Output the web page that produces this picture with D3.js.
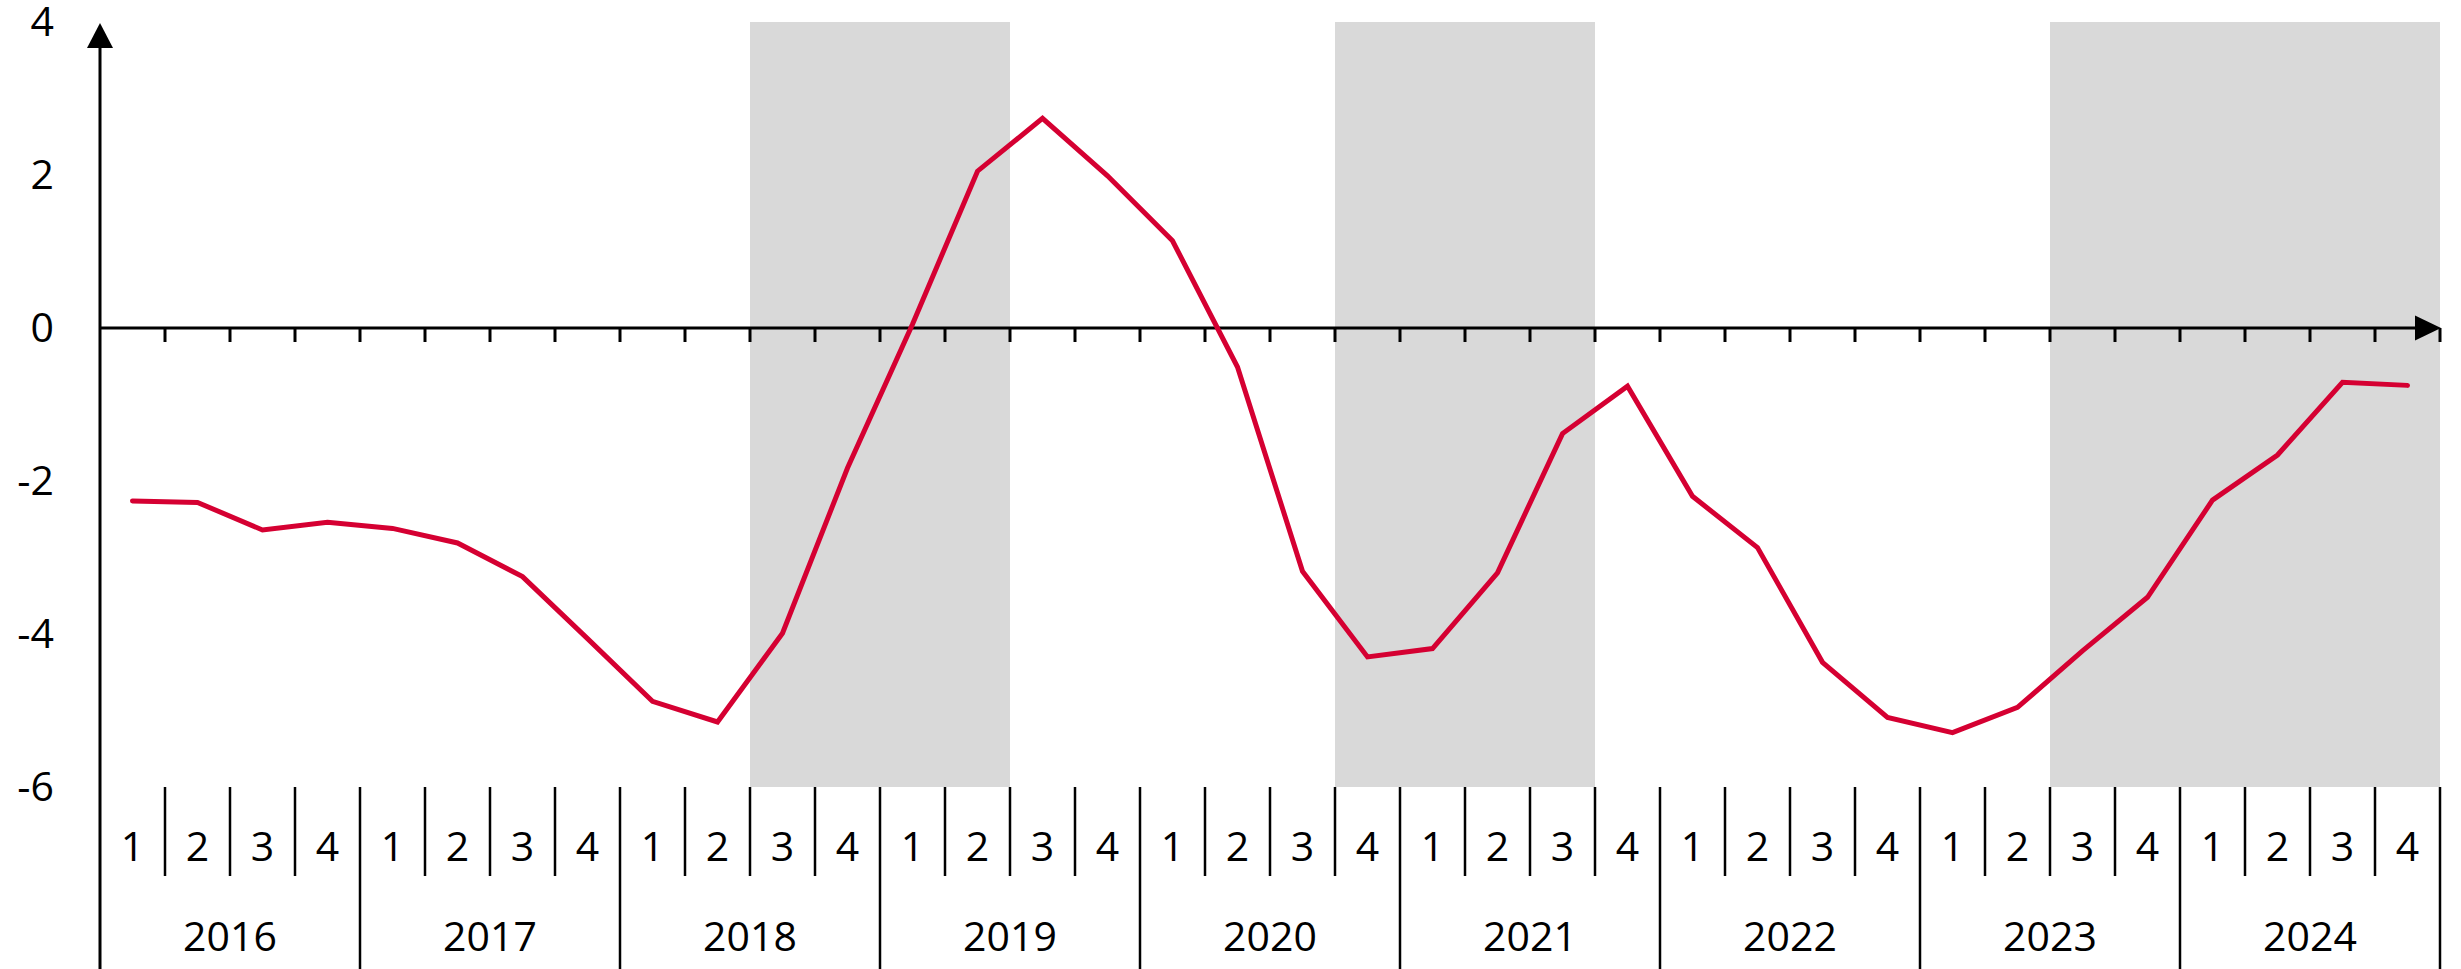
<!DOCTYPE html>
<html>
<head>
<meta charset="utf-8">
<script src="https://cdn.jsdelivr.net/npm/d3@7"></script>
<style>
  html, body { margin: 0; padding: 0; background: #fff; }
  svg { display: block; }
  text { font-family: "Open Sans", sans-serif; fill: #000; }
</style>
</head>
<body>
<script>
// ---- data ----
const years = ["2016","2017","2018","2019","2020","2021","2022","2023","2024"];
const quarters = ["1","2","3","4"];
const values = [
  -2.26, -2.28, -2.64, -2.54,
  -2.62, -2.81, -3.25, -4.06,
  -4.88, -5.15, -3.99, -1.83,
   0.05,  2.05,  2.74,  1.99,
   1.14, -0.51, -3.18, -4.30,
  -4.19, -3.20, -1.38, -0.76,
  -2.20, -2.87, -4.37, -5.09,
  -5.29, -4.96, -4.22, -3.52,
  -2.25, -1.66, -0.71, -0.75
];
const shadeStarts = ["2018-3", "2020-4", "2023-3"];
const shadeEnds   = ["2019-2", "2021-3", "2024-4"];
const yTicks = [4, 2, 0, -2, -4, -6];

// ---- layout ----
const W = 2461, H = 969;
const x0 = 100, x1 = 2440;
const keys = [];
years.forEach(y => quarters.forEach(q => keys.push(y + "-" + q)));

const x = d3.scaleBand().domain(keys).range([x0, x1]).padding(0);
const xYear = d3.scaleBand().domain(years).range([x0, x1]).padding(0);
const y = d3.scaleLinear().domain([-6, 4]).range([787, 22]);

const svg = d3.select("body").append("svg").attr("width", W).attr("height", H);

// shaded bands
const bands = shadeStarts.map((s, i) => ({ s, e: shadeEnds[i] }));
svg.append("g").selectAll("rect").data(bands).join("rect")
  .attr("x", d => x(d.s))
  .attr("width", d => x(d.e) + x.bandwidth() - x(d.s))
  .attr("y", y(4))
  .attr("height", y(-6) - y(4))
  .attr("fill", "#d9d9d9");

// y labels
svg.append("g").selectAll("text").data(yTicks).join("text")
  .attr("x", 54)
  .attr("y", d => y(d))
  .attr("dy", "0.33em")
  .attr("text-anchor", "end")
  .attr("font-size", 41)
  .text(d => d);

// zero axis with ticks
const y0 = y(0);
svg.append("line")
  .attr("x1", x0).attr("x2", x1 - 10)
  .attr("y1", y0).attr("y2", y0)
  .attr("stroke", "#000").attr("stroke-width", 3);
svg.append("g").selectAll("line").data(keys).join("line")
  .attr("x1", d => x(d) + x.bandwidth())
  .attr("x2", d => x(d) + x.bandwidth())
  .attr("y1", y0).attr("y2", y0 + 14)
  .attr("stroke", "#000").attr("stroke-width", 3);
// x arrow
svg.append("path")
  .attr("d", `M${x1 + 1},${y0} L${x1 - 25},${y0 - 12.5} L${x1 - 25},${y0 + 12.5} Z`)
  .attr("fill", "#000");

// y axis line and arrow
svg.append("line")
  .attr("x1", x0).attr("x2", x0)
  .attr("y1", 40).attr("y2", H)
  .attr("stroke", "#000").attr("stroke-width", 3);
svg.append("path")
  .attr("d", `M${x0},23 L${x0 - 13},48 L${x0 + 13},48 Z`)
  .attr("fill", "#000");

// category axis: quarter separators and labels
const qTop = y(-6), qBottom = 876;
svg.append("g").selectAll("line").data(keys).join("line")
  .attr("x1", d => x(d) + x.bandwidth())
  .attr("x2", d => x(d) + x.bandwidth())
  .attr("y1", qTop)
  .attr("y2", (d, i) => (i % 4 === 3) ? H : qBottom)
  .attr("stroke", "#000").attr("stroke-width", 2.5);
svg.append("g").selectAll("text").data(keys).join("text")
  .attr("x", d => x(d) + x.bandwidth() / 2)
  .attr("y", 847)
  .attr("dy", "0.35em")
  .attr("text-anchor", "middle")
  .attr("font-size", 41)
  .text(d => d.split("-")[1]);
svg.append("g").selectAll("text").data(years).join("text")
  .attr("x", d => xYear(d) + xYear.bandwidth() / 2)
  .attr("y", 937)
  .attr("dy", "0.35em")
  .attr("text-anchor", "middle")
  .attr("font-size", 41)
  .text(d => d);

// data line
const line = d3.line()
  .x((d, i) => x(keys[i]) + x.bandwidth() / 2)
  .y(d => y(d));
svg.append("path")
  .datum(values)
  .attr("d", line)
  .attr("fill", "none")
  .attr("stroke", "#d50032")
  .attr("stroke-width", 5)
  .attr("stroke-linecap", "round")
  .attr("stroke-linejoin", "miter");
</script>
</body>
</html>
